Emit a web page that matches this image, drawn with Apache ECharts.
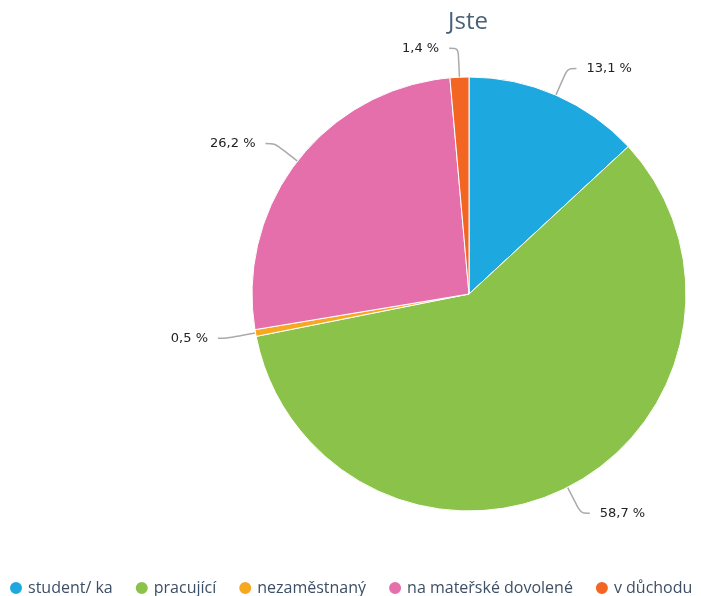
<!DOCTYPE html>
<html>
<head>
<meta charset="utf-8">
<script src="https://cdn.jsdelivr.net/npm/echarts@6/dist/echarts.min.js"></script>
<style>
  html, body { margin: 0; padding: 0; background: #fff; }
  #chart { width: 701px; height: 596px; }
</style>
</head>
<body>
<div id="chart"></div>
<script>
// Answers to "Jste" (share of respondents, %)
const categories = ['student/ ka', 'pracující', 'nezaměstnaný', 'na mateřské dovolené', 'v důchodu'];
const shares = [13.1, 58.7, 0.5, 26.2, 1.4];
const colors = ['#1ea8e0', '#8bc34a', '#f7a823', '#e56fab', '#f26522'];

const chart = echarts.init(document.getElementById('chart'), null, { renderer: 'canvas' });

chart.setOption({
  animation: false,
  color: colors,
  title: {
    text: 'Jste',
    left: 443,
    top: 5,
    textStyle: { fontFamily: 'Open Sans', fontSize: 24, fontWeight: 'normal', color: '#4a5f78' }
  },
  legend: {
    top: 575,
    left: 0,
    width: 701,
    padding: [5, 0, 5, 8],
    icon: 'circle',
    itemWidth: 14,
    itemHeight: 14,
    itemGap: 21,
    textStyle: { fontFamily: 'Open Sans', fontSize: 16, color: '#3d4f66' },
    data: categories
  },
  series: [{
    type: 'pie',
    center: [469, 294],
    radius: 217,
    startAngle: 90,
    clockwise: true,
    data: categories.map((c, i) => ({ name: c, value: shares[i] })),
    itemStyle: { borderColor: '#ffffff', borderWidth: 1 },
    label: {
      show: true,
      formatter: p => p.value.toFixed(1).replace('.', ',') + ' %',
      fontFamily: 'DejaVu Sans',
      fontSize: 13,
      color: '#222',
      distanceToLabelLine: 10
    },
    labelLine: {
      show: true,
      length: 29,
      length2: 9,
      smooth: 0.3,
      lineStyle: { color: '#aaaaaa', width: 1.5 }
    }
  }]
});
</script>
</body>
</html>
